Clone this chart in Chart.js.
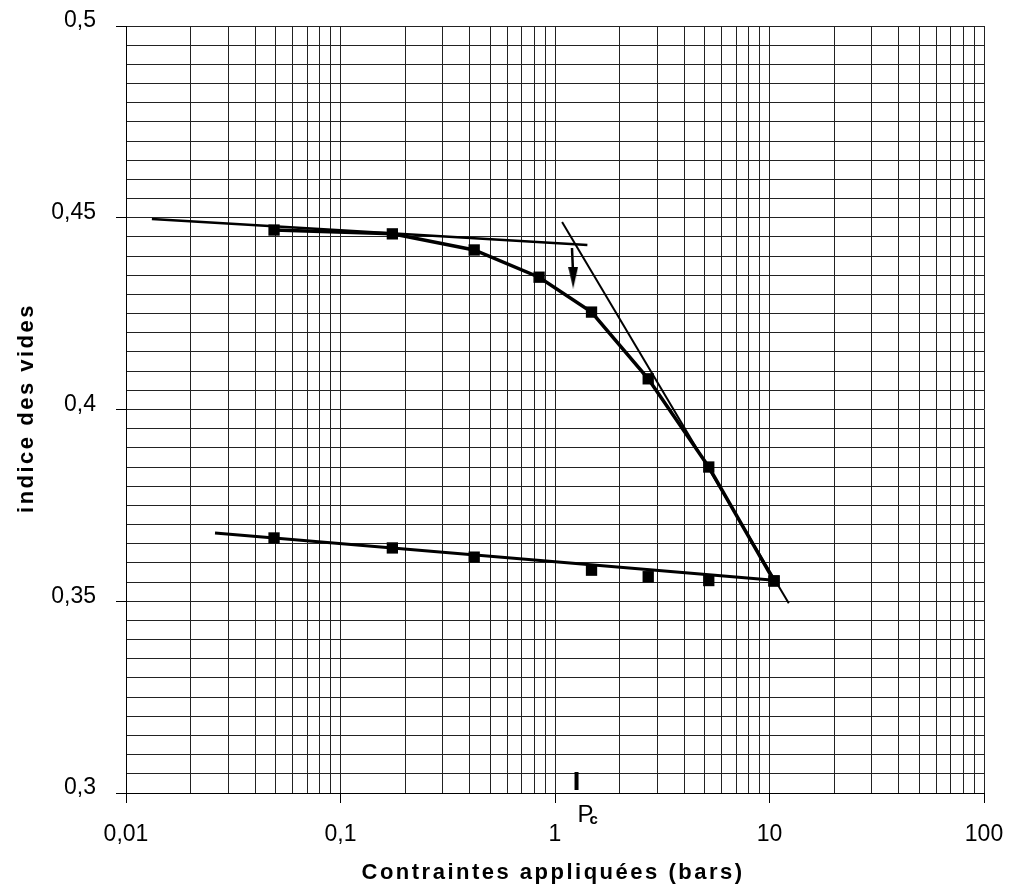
<!DOCTYPE html>
<html><head><meta charset="utf-8">
<script src="https://cdn.jsdelivr.net/npm/chart.js@4.4.0/dist/chart.umd.min.js"></script>
<style>html,body{margin:0;padding:0;background:#fff;}#wrap{width:1013px;height:891px;position:relative;}</style>
</head><body><div id="wrap"><canvas id="c"></canvas></div>
<script>
// ---- data ----
const stressLoad   = [0.049, 0.1745, 0.42, 0.843, 1.48, 2.72, 5.21, 10.5];
const voidLoad     = [0.4468, 0.4458, 0.4416, 0.4345, 0.4254, 0.4080, 0.3850, 0.3553];
const stressUnload = [0.049, 0.1745, 0.42, 1.48, 2.72, 5.21, 10.5];
const voidUnload   = [0.3665, 0.3639, 0.3615, 0.3581, 0.3564, 0.3554, 0.3553];
const flatTangentX  = [0.0132, 1.416];
const flatTangentY  = [0.4497, 0.4429];
const steepTangentX = [1.079, 12.3];
const steepTangentY = [0.4489, 0.3495];
const unloadFitX    = [0.026, 10.5];
const unloadFitY    = [0.3678, 0.3555];
const arrowShaftX   = [1.2, 1.215];
const arrowShaftY   = [0.4421, 0.4350];
const arrowHeadX    = [1.215];
const arrowHeadY    = [0.4344];
const pcMarkX       = [1.26, 1.26];
const pcMarkY       = [0.3055, 0.3008];
const pcLabel = 'P';
const pcSub = 'c';
const xDecades = [0.01, 0.1, 1, 10, 100];
const xDecadeLabels = ['0,01', '0,1', '1', '10', '100'];
const xMultiples = [1, 2, 3, 4, 5, 6, 7, 8, 9];
const yMajorValues = [0.3, 0.35, 0.4, 0.45, 0.5];
const yLabels = ['0,3', '0,35', '0,4', '0,45', '0,5'];
const yMinorCount = 40; // 0.005 steps between 0.3 and 0.5
const xTitle = 'Contraintes appliquées (bars)';
const yTitle = 'indice des vides';

const FONT = '"Liberation Sans", Arial, sans-serif';
const zip = (xs, ys) => xs.map((x, i) => ({x: x, y: ys[i]}));

const xGrid = [];
for (let d = 0; d < xDecades.length - 1; d++) for (const m of xMultiples) xGrid.push(+(xDecades[d] * m).toPrecision(6));
xGrid.push(xDecades[xDecades.length - 1]);
const yGrid = [];
for (let i = 0; i <= yMinorCount; i++) yGrid.push(Math.round(300 + i * 5) / 1000);

const isDecade = v => xDecades.some(d => Math.abs(v / d - 1) < 1e-6);
const isYMajor = v => yMajorValues.some(d => Math.abs(v - d) < 1e-6);

const head = document.createElement('canvas');
head.width = 10; head.height = 22;
(function(){ const g = head.getContext('2d'); g.fillStyle = '#000'; g.beginPath(); g.moveTo(0,0); g.lineTo(10,0); g.lineTo(5,22); g.closePath(); g.fill(); })();

const titlesPlugin = {
  id: 'titles',
  afterDraw(chart) {
    const ctx = chart.ctx;
    const xs = chart.scales.x;
    ctx.save();
    ctx.fillStyle = '#000';
    ctx.font = 'bold 22px ' + FONT;
    ctx.letterSpacing = '2.5px';
    ctx.textAlign = 'center';
    ctx.textBaseline = 'middle';
    ctx.fillText(xTitle, 553, 873);
    ctx.translate(27, 408);
    ctx.rotate(-Math.PI / 2);
    ctx.fillText(yTitle, 0, 0);
    ctx.restore();
    ctx.save();
    const px = xs.getPixelForValue(pcMarkX[0]);
    ctx.fillStyle = '#000';
    ctx.textAlign = 'left';
    ctx.textBaseline = 'alphabetic';
    ctx.font = '24px ' + FONT;
    ctx.fillText(pcLabel, px + 1, 822);
    ctx.font = 'bold 15px ' + FONT;
    ctx.fillText(pcSub, px + 13, 824);
    ctx.restore();
  }
};

const lineDs = (label, pts, w) => ({label, data: pts, borderColor: '#000', backgroundColor: '#000', borderWidth: w, pointRadius: 0, pointHoverRadius: 0, tension: 0, fill: false});

new Chart(document.getElementById('c'), {
  type: 'line',
  data: {
    datasets: [
      Object.assign(lineDs('Chargement', zip(stressLoad, voidLoad), 3.5), {pointRadius: 8, pointStyle: 'rect', pointBorderWidth: 0, pointBackgroundColor: '#000'}),
      Object.assign(lineDs('Déchargement', zip(stressUnload, voidUnload), 0), {showLine: false, pointRadius: 8, pointStyle: 'rect', pointBorderWidth: 0, pointBackgroundColor: '#000'}),
      lineDs('Droite déchargement', zip(unloadFitX, unloadFitY), 3),
      lineDs('Tangente 1', zip(flatTangentX, flatTangentY), 2.5),
      lineDs('Tangente 2', zip(steepTangentX, steepTangentY), 2),
      lineDs('Flèche', zip(arrowShaftX, arrowShaftY), 2.5),
      Object.assign(lineDs('Pointe', zip(arrowHeadX, arrowHeadY), 0), {showLine: false, pointRadius: 6, pointStyle: head}),
      lineDs('Pc', zip(pcMarkX, pcMarkY), 4)
    ]
  },
  options: {
    responsive: true,
    maintainAspectRatio: false,
    animation: false,
    events: [],
    layout: {padding: {left: 0, right: 29, top: 26, bottom: 0}},
    plugins: {legend: {display: false}, tooltip: {enabled: false}},
    scales: {
      x: {
        type: 'logarithmic',
        min: 0.01, max: 100,
        afterBuildTicks: s => { s.ticks = xGrid.map(v => ({value: v, major: isDecade(v)})); },
        afterFit: s => { s.height = 98; s.paddingLeft = 0; s.paddingRight = 0; },
        grid: {color: '#222', lineWidth: 1, drawTicks: true, tickLength: 10,
               tickColor: c => (c.tick && isDecade(c.tick.value)) ? '#000' : 'rgba(0,0,0,0)'},
        border: {color: '#000', width: 1},
        ticks: {autoSkip: false, maxRotation: 0, minRotation: 0, padding: 18, color: '#000',
                font: {size: 23, family: FONT},
                callback: v => { const i = xDecades.findIndex(d => Math.abs(v / d - 1) < 1e-6); return i >= 0 ? xDecadeLabels[i] : ''; }}
      },
      y: {
        type: 'linear',
        min: 0.3, max: 0.5,
        afterBuildTicks: s => { s.ticks = yGrid.map(v => ({value: v})); },
        afterFit: s => { s.width = 126; s.paddingTop = 0; s.paddingBottom = 0; },
        grid: {color: '#222', lineWidth: 1, drawTicks: true, tickLength: 10,
               tickColor: c => (c.tick && isYMajor(c.tick.value)) ? '#000' : 'rgba(0,0,0,0)'},
        border: {color: '#000', width: 1},
        ticks: {autoSkip: false, padding: 20, color: '#000', labelOffset: -5,
                font: {size: 23, family: FONT},
                callback: v => { const i = yMajorValues.findIndex(d => Math.abs(v - d) < 1e-6); return i >= 0 ? yLabels[i] : ''; }}
      }
    }
  },
  plugins: [titlesPlugin]
});
</script></body></html>
